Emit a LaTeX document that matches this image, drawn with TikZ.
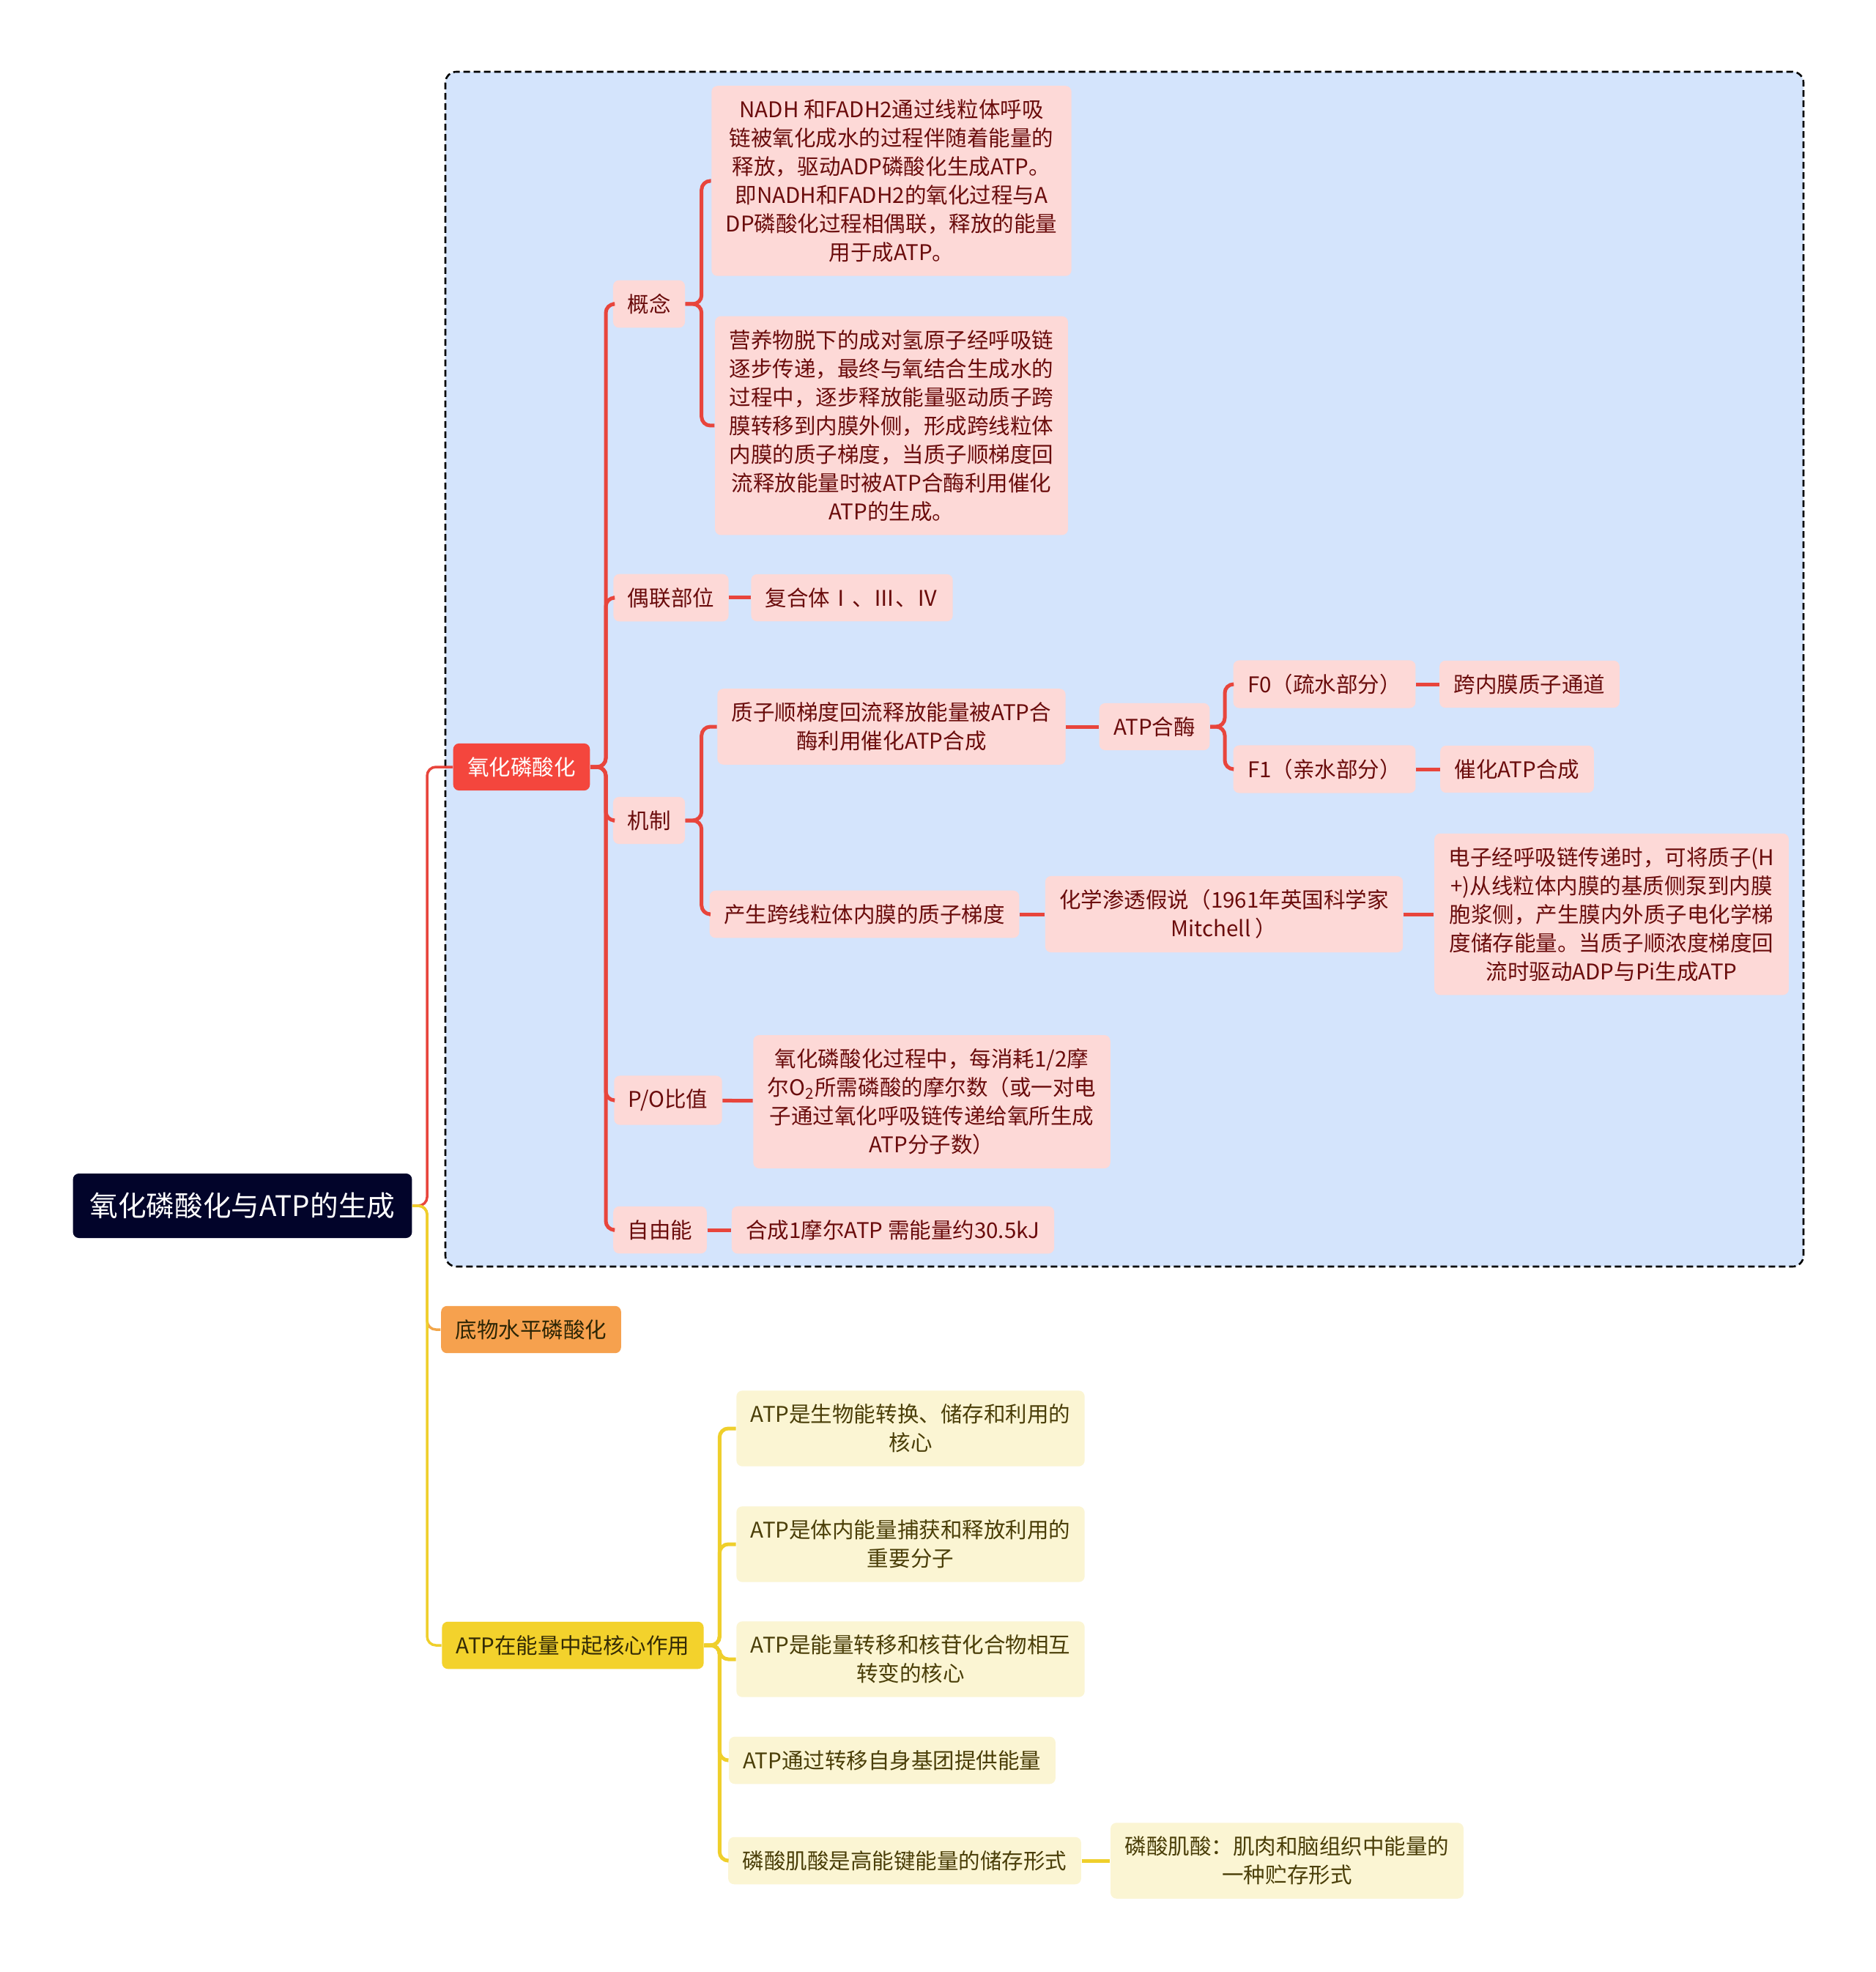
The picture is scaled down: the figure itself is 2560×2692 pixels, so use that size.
\documentclass[tikz,border=0pt]{standalone}
\usepackage{fontspec}
\setmainfont{Noto Sans CJK SC}
\usepackage{xcolor}
\usetikzlibrary{positioning}

\definecolor{navyfill}{HTML}{02042A}
\definecolor{bluefill}{HTML}{D4E4FC}
\definecolor{redfill}{HTML}{F4463D}
\definecolor{redline}{HTML}{E8453C}
\definecolor{pinkfill}{HTML}{FDD9D7}
\definecolor{pinktext}{HTML}{6A0C0C}
\definecolor{orangefill}{HTML}{F6A14E}
\definecolor{orangeline}{HTML}{F2A64A}
\definecolor{yellowfill}{HTML}{F3D22C}
\definecolor{yellowline}{HTML}{EFCF2B}
\definecolor{creamfill}{HTML}{FBF5D3}
\definecolor{creamtext}{HTML}{4A3E08}

\begin{document}
\begin{tikzpicture}[x=0.1mm, y=-0.1mm,
    box/.style={rounded corners=0.8mm, inner xsep=1.95mm, inner ysep=1.85mm,
        align=center, font=\fontsize{8.4}{11.1}\selectfont},
    pinkbox/.style={box, fill=pinkfill, text=pinktext},
    creambox/.style={box, fill=creamfill, text=creamtext},
    rootlink/.style={line width=0.35mm, rounded corners=1.2mm},
    link/.style={line width=0.5mm, rounded corners=1.2mm},
]
\useasboundingbox (0,0) rectangle (2560,2692);
\fill[white] (0,0) rectangle (2560,2692);

% frame of the first branch
\draw[fill=bluefill, dash pattern=on 0.9mm off 0.5mm, line width=0.26mm, rounded corners=1.5mm]
    (608,98) rectangle (2462,1729);

% root and first level
\node[box, fill=navyfill, text=white, font=\fontsize{11}{13}\selectfont,
    inner xsep=2.3mm, inner ysep=2.6mm] (root) at (331,1646) {氧化磷酸化与ATP的生成};
\node[box, fill=redfill, text=white] (oxphos) at (712,1047) {氧化磷酸化};
\node[box, fill=orangefill, text=creamtext!60!black] (substrate) at (725,1815) {底物水平磷酸化};
\node[box, fill=yellowfill, text=creamtext!70!black] (atprole) at (782,2246) {ATP在能量中起核心作用};

% oxidative phosphorylation
\node[pinkbox] (concept) at (886,415) {概念};
\node[pinkbox] (coupling) at (916,816) {偶联部位};
\node[pinkbox] (mech) at (886,1120) {机制};
\node[pinkbox] (poratio) at (912,1502) {P/O比值};
\node[pinkbox] (freeen) at (901,1679) {自由能};

\node[pinkbox] (conceptA) at (1217,247) {NADH 和FADH2通过线粒体呼吸\\链被氧化成水的过程伴随着能量的\\释放，驱动ADP磷酸化生成ATP。\\即NADH和FADH2的氧化过程与A\\DP磷酸化过程相偶联，释放的能量\\用于成ATP。};
\node[pinkbox] (conceptB) at (1217,581) {营养物脱下的成对氢原子经呼吸链\\逐步传递，最终与氧结合生成水的\\过程中，逐步释放能量驱动质子跨\\膜转移到内膜外侧，形成跨线粒体\\内膜的质子梯度，当质子顺梯度回\\流释放能量时被ATP合酶利用催化\\ATP的生成。};
\node[pinkbox] (complex) at (1163,816) {复合体Ⅰ、Ⅲ、Ⅳ};

\node[pinkbox] (backflow) at (1217,992) {质子顺梯度回流释放能量被ATP合\\酶利用催化ATP合成};
\node[pinkbox] (gradient) at (1180,1248) {产生跨线粒体内膜的质子梯度};
\node[pinkbox] (synthase) at (1576,992) {ATP合酶};
\node[pinkbox] (fzero) at (1808,934) {F0（疏水部分）};
\node[pinkbox] (fone) at (1808,1050) {F1（亲水部分）};
\node[pinkbox] (channel) at (2088,934) {跨内膜质子通道};
\node[pinkbox] (catalyse) at (2071,1050) {催化ATP合成};
\node[pinkbox] (mitchell) at (1671,1248) {化学渗透假说（1961年英国科学家\\Mitchell ）};
\node[pinkbox] (pump) at (2200,1248) {电子经呼吸链传递时，可将质子(H\\+)从线粒体内膜的基质侧泵到内膜\\胞浆侧，产生膜内外质子电化学梯\\度储存能量。当质子顺浓度梯度回\\流时驱动ADP与Pi生成ATP};

\node[pinkbox] (poText) at (1272,1504) {氧化磷酸化过程中，每消耗1/2摩\\尔O\textsubscript{2}所需磷酸的摩尔数（或一对电\\子通过氧化呼吸链传递给氧所生成\\ATP分子数）};
\node[pinkbox] (energy) at (1219,1679) {合成1摩尔ATP 需能量约30.5kJ};

% role of ATP
\node[creambox] (core) at (1243,1950) {ATP是生物能转换、储存和利用的\\核心};
\node[creambox] (capture) at (1243,2108) {ATP是体内能量捕获和释放利用的\\重要分子};
\node[creambox] (nucleo) at (1243,2265) {ATP是能量转移和核苷化合物相互\\转变的核心};
\node[creambox] (group) at (1218,2403) {ATP通过转移自身基团提供能量};
\node[creambox] (creatine) at (1235,2540) {磷酸肌酸是高能键能量的储存形式};
\node[creambox] (store) at (1757,2540) {磷酸肌酸：肌肉和脑组织中能量的\\一种贮存形式};

% connectors
\draw[rootlink, draw=redline] (root.east) -- ++(20,0) |- (oxphos.west);
\draw[rootlink, draw=orangeline] (root.east) -- ++(20,0) |- (substrate.west);
\draw[rootlink, draw=yellowline] (root.east) -- ++(20,0) |- (atprole.west);

\foreach \kid in {concept,coupling,mech,poratio,freeen}
    \draw[link, draw=redline] (oxphos.east) -- ++(21,0) |- (\kid.west);
\foreach \kid in {conceptA,conceptB}
    \draw[link, draw=redline] (concept.east) -- ++(22,0) |- (\kid.west);
\foreach \kid in {backflow,gradient}
    \draw[link, draw=redline] (mech.east) -- ++(22,0) |- (\kid.west);
\foreach \kid in {fzero,fone}
    \draw[link, draw=redline] (synthase.east) -- ++(20,0) |- (\kid.west);
\draw[link, draw=redline] (coupling) -- (complex);
\draw[link, draw=redline] (backflow) -- (synthase);
\draw[link, draw=redline] (fzero) -- (channel);
\draw[link, draw=redline] (fone) -- (catalyse);
\draw[link, draw=redline] (gradient) -- (mitchell);
\draw[link, draw=redline] (mitchell) -- (pump);
\draw[link, draw=redline] (poratio) -- (poText);
\draw[link, draw=redline] (freeen) -- (energy);

\foreach \kid in {core,capture,nucleo,group,creatine}
    \draw[link, draw=yellowline] (atprole.east) -- ++(21,0) |- (\kid.west);
\draw[link, draw=yellowline] (creatine) -- (store);
\end{tikzpicture}
\end{document}
